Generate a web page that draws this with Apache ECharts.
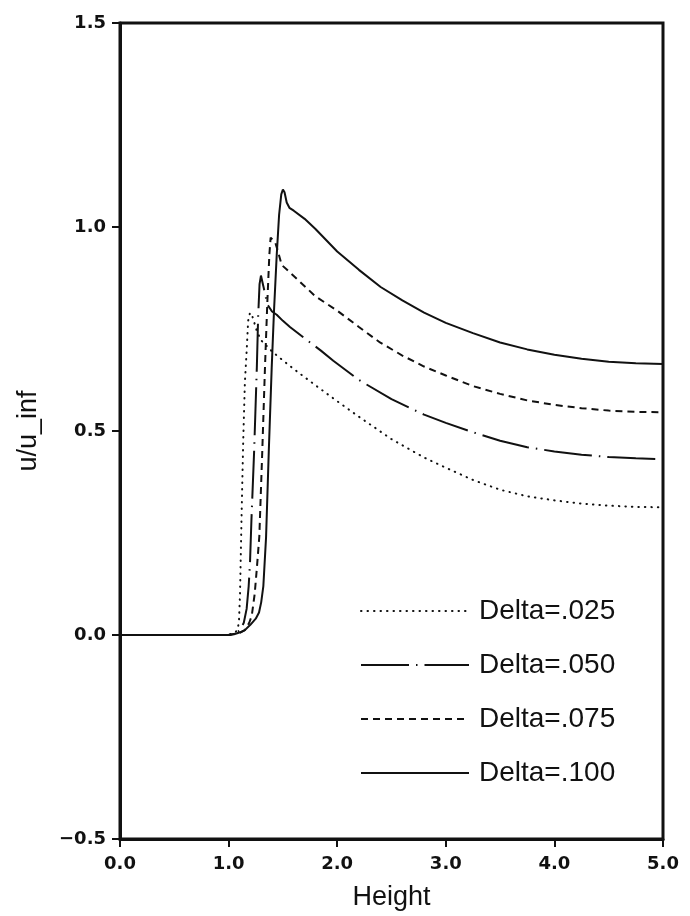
<!DOCTYPE html>
<html>
<head>
<meta charset="utf-8">
<script src="https://cdn.jsdelivr.net/npm/echarts@6/dist/echarts.min.js"></script>
<style>
html,body{margin:0;padding:0;background:#fff;}
#chart{width:690px;height:916px;}
</style>
</head>
<body>
<div id="chart"></div>
<script>
// ---- data ----
const seriesNames = ['Delta=.025', 'Delta=.050', 'Delta=.075', 'Delta=.100'];
const xTickLabels = ['0.0', '1.0', '2.0', '3.0', '4.0', '5.0'];
const yTickValues = [-0.5, 0, 0.5, 1, 1.5];
const yTickLabels = ['\u22120.5', '0.0', '0.5', '1.0', '1.5'];

const d025x = [0, 1.0, 1.05, 1.08, 1.095, 1.105, 1.12, 1.135, 1.15, 1.167, 1.18, 1.197, 1.22, 1.26, 1.3, 1.4, 1.5, 1.6, 1.8, 2.0, 2.2, 2.5, 2.8, 3.0, 3.25, 3.5, 3.75, 4.0, 4.25, 4.5, 4.75, 5.0];
const d025y = [0, 0, 0.003, 0.012, 0.03, 0.1, 0.3, 0.48, 0.62, 0.7, 0.77, 0.79, 0.78, 0.745, 0.722, 0.695, 0.673, 0.652, 0.612, 0.573, 0.535, 0.48, 0.435, 0.41, 0.38, 0.356, 0.34, 0.33, 0.322, 0.317, 0.314, 0.313];

const d050x = [0, 1.0, 1.1, 1.14, 1.166, 1.185, 1.197, 1.21, 1.235, 1.26, 1.272, 1.285, 1.298, 1.32, 1.357, 1.4, 1.443, 1.5, 1.565, 1.7, 1.85, 1.964, 2.2, 2.5, 2.8, 3.0, 3.25, 3.5, 3.75, 4.0, 4.25, 4.5, 4.75, 5.0];
const d050y = [0, 0, 0.01, 0.03, 0.064, 0.12, 0.177, 0.28, 0.45, 0.656, 0.78, 0.86, 0.881, 0.855, 0.81, 0.793, 0.785, 0.77, 0.755, 0.727, 0.697, 0.672, 0.625, 0.578, 0.54, 0.52, 0.497, 0.476, 0.46, 0.45, 0.442, 0.436, 0.433, 0.431];

const d075x = [0, 1.0, 1.1, 1.15, 1.19, 1.213, 1.24, 1.259, 1.283, 1.31, 1.335, 1.357, 1.375, 1.387, 1.4, 1.43, 1.46, 1.489, 1.6, 1.8, 2.0, 2.2, 2.394, 2.6, 2.8, 3.0, 3.25, 3.5, 3.75, 4.0, 4.25, 4.5, 4.75, 5.0];
const d075y = [0, 0, 0.005, 0.012, 0.03, 0.047, 0.1, 0.16, 0.242, 0.45, 0.656, 0.818, 0.931, 0.974, 0.972, 0.962, 0.935, 0.907, 0.88, 0.83, 0.795, 0.755, 0.717, 0.685, 0.658, 0.636, 0.61, 0.591, 0.575, 0.564, 0.556, 0.55, 0.547, 0.546];

const d100x = [0, 1.0, 1.05, 1.1, 1.15, 1.2, 1.25, 1.28, 1.3, 1.32, 1.345, 1.37, 1.397, 1.418, 1.443, 1.465, 1.485, 1.5, 1.515, 1.535, 1.56, 1.6, 1.7, 1.8, 2.0, 2.2, 2.4, 2.6, 2.8, 3.0, 3.25, 3.5, 3.75, 4.0, 4.25, 4.5, 4.75, 5.0];
const d100y = [0, 0, 0.002, 0.006, 0.012, 0.025, 0.04, 0.055, 0.08, 0.12, 0.24, 0.45, 0.656, 0.794, 0.931, 1.03, 1.08, 1.092, 1.085, 1.06, 1.047, 1.04, 1.02, 0.995, 0.94, 0.895, 0.853, 0.82, 0.79, 0.765, 0.74, 0.717, 0.7, 0.687, 0.677, 0.67, 0.666, 0.664];

function pairs(xs, ys) { return xs.map((x, i) => [x, ys[i]]); }

const ink = '#111';
const dashes = [[0.5, 6], [48, 7, 1.5, 7], [7, 5], 'solid'];
const caps = ['round', 'butt', 'butt', 'butt'];
const allData = [pairs(d025x, d025y), pairs(d050x, d050y), pairs(d075x, d075y), pairs(d100x, d100y)];
const textFont = 'Liberation Sans';
const tickFont = 'DejaVu Sans';

const chart = echarts.init(document.getElementById('chart'), null, {renderer: 'canvas'});
chart.setOption({
  animation: false,
  backgroundColor: '#fff',
  grid: {left: 120, right: 27, top: 23, bottom: 71, show: true, borderColor: ink, borderWidth: 3, backgroundColor: 'transparent'},
  legend: {
    orient: 'vertical', left: 360, top: 597, padding: 0,
    itemWidth: 108, itemHeight: 26, itemGap: 26,
    data: seriesNames,
    itemStyle: {opacity: 0, color: 'rgba(0,0,0,0)', borderWidth: 0},
    textStyle: {fontFamily: textFont, fontSize: 28, color: ink, lineHeight: 26, padding: [0, 0, 0, 5]}
  },
  xAxis: {
    type: 'value', min: 0, max: 5, interval: 1,
    name: 'Height', nameLocation: 'middle', nameGap: 45,
    nameTextStyle: {fontFamily: textFont, fontSize: 27, color: ink},
    axisLine: {show: true, onZero: false, lineStyle: {color: ink, width: 3}},
    axisTick: {show: true, length: 8, lineStyle: {color: ink, width: 2}},
    axisLabel: {margin: 16, fontFamily: tickFont, fontWeight: 'bold', fontSize: 18, color: ink,
      formatter: v => xTickLabels[Math.round(v)]},
    splitLine: {show: false}
  },
  yAxis: {
    type: 'value', min: -0.5, max: 1.5, interval: 0.5,
    name: 'u/u_inf', nameLocation: 'middle', nameGap: 78, nameRotate: 90,
    nameTextStyle: {fontFamily: textFont, fontSize: 27, color: ink},
    axisLine: {show: true, onZero: false, lineStyle: {color: ink, width: 3}},
    axisTick: {show: true, length: 8, lineStyle: {color: ink, width: 2}},
    axisLabel: {margin: 14, fontFamily: tickFont, fontWeight: 'bold', fontSize: 18, color: ink,
      formatter: v => { const i = yTickValues.findIndex(t => Math.abs(t - v) < 1e-6); return i >= 0 ? yTickLabels[i] : ''; }},
    splitLine: {show: false}
  },
  series: seriesNames.map((n, i) => ({
    name: n, type: 'line', data: allData[i],
    showSymbol: false, symbol: 'none', z: 2 + i,
    lineStyle: {color: ink, width: 2, type: dashes[i], cap: caps[i]},
    itemStyle: {color: ink}
  }))
});
</script>
</body>
</html>
